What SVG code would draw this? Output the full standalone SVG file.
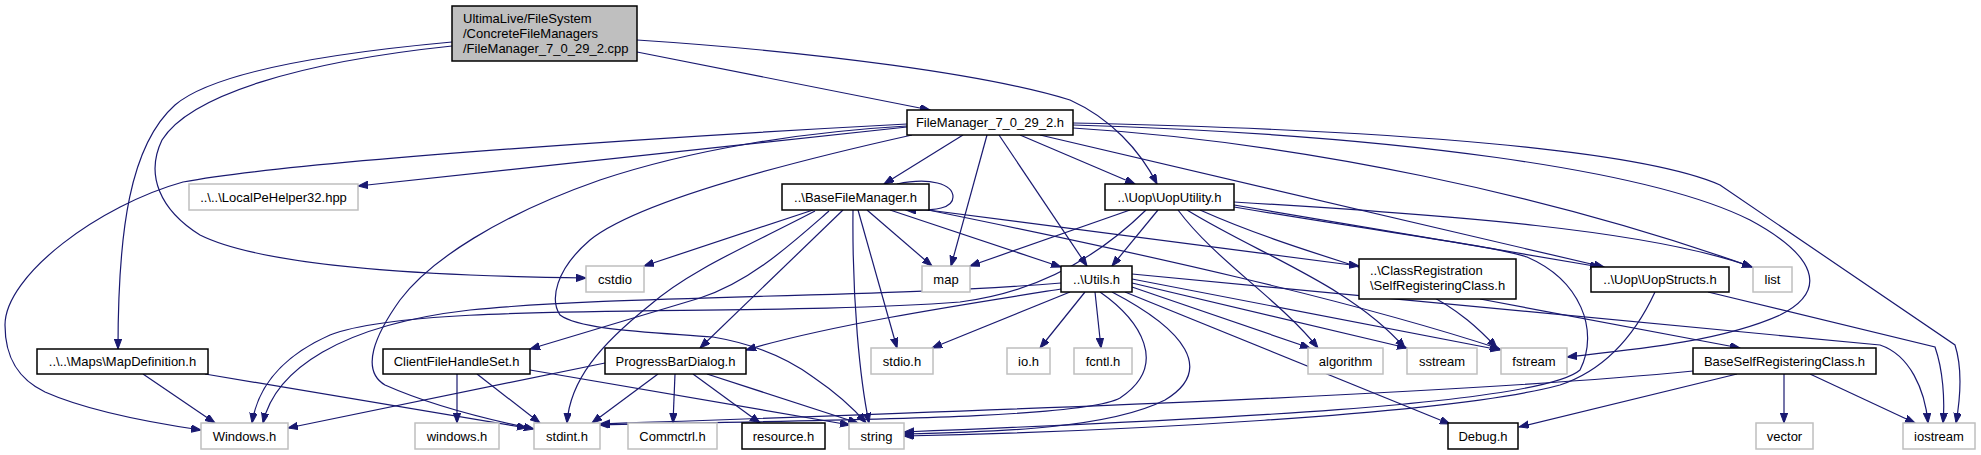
<svg xmlns="http://www.w3.org/2000/svg" width="1981" height="455" viewBox="0 0 1981 455">
<style>
.n rect{fill:#fff;stroke:#bfbfbf;stroke-width:1.5}
.n.d rect{stroke:#000}
.n.r rect{fill:#bfbfbf;stroke:#000}
.n text{font-family:"Liberation Sans",Arial,sans-serif;font-size:13px;fill:#000;text-anchor:middle}
.n text.l{text-anchor:start}
#edges path{fill:none;stroke:#191970;stroke-width:1.2;marker-end:url(#a)}
</style>
<defs>
<marker id="a" markerWidth="11" markerHeight="8" refX="10" refY="3.7" orient="auto" markerUnits="userSpaceOnUse"><path d="M0,0 L10,3.7 L0,7.4 z" fill="#191970" stroke="#191970" stroke-width="1"/></marker>
</defs>
<rect width="1981" height="455" fill="#fff"/>
<g id="edges">
<path d="M637,52 L930,110"/>
<path d="M637,40 C820,52 990,75 1070,100 C1110,118 1140,150 1157,184"/>
<path d="M452,42 C310,55 210,75 175,105 C130,145 118,230 118,349"/>
<path d="M452,46 C300,62 190,95 162,140 C145,175 160,210 200,235 C260,265 420,276 586,278"/>
<path d="M907,124 C700,135 300,160 183,182 C100,205 5,275 5,325 C5,360 20,380 45,392 C90,412 160,424 201,430"/>
<path d="M907,127 L358,186"/>
<path d="M907,126 C800,132 690,150 600,180 C500,215 430,260 400,300 C375,335 360,370 385,385 C430,405 490,420 534,429"/>
<path d="M912,135 C800,160 640,200 590,240 C555,270 550,300 560,315 C580,330 650,332 713,337 C760,345 790,360 813,377 C835,392 855,410 866,423"/>
<path d="M963,135 L884,184"/>
<path d="M987,135 L951,266"/>
<path d="M999,135 L1087,266"/>
<path d="M1020,135 L1135,184"/>
<path d="M1040,135 L1604,267"/>
<path d="M1073,128 C1300,142 1550,195 1752,267"/>
<path d="M1073,125 C1400,135 1650,170 1750,220 C1815,255 1830,290 1780,315 C1720,342 1630,350 1567,357"/>
<path d="M1073,123 C1400,130 1640,150 1720,185 L1955,345 C1963,370 1960,400 1956,423"/>
<path d="M897,184 C930,177 953,184 953,197 C953,208 937,211 906,210"/>
<path d="M813,210 L644,266"/>
<path d="M815,211 C750,245 690,270 650,305 C600,345 570,380 567,423"/>
<path d="M829,211 C790,245 750,282 700,298 L530,349"/>
<path d="M843,210 L700,348"/>
<path d="M853,210 C852,300 860,380 869,423"/>
<path d="M858,210 L897,348"/>
<path d="M867,210 L932,266"/>
<path d="M890,210 L1061,267"/>
<path d="M920,209 L1359,266"/>
<path d="M928,210 C1150,255 1350,300 1500,349"/>
<path d="M1061,283 C880,298 620,295 470,310 C340,325 275,370 263,423"/>
<path d="M1061,289 C960,305 830,325 746,350"/>
<path d="M1070,292 L932,348"/>
<path d="M1085,292 L1040,348"/>
<path d="M1095,292 L1101,348"/>
<path d="M1100,292 C1140,320 1170,365 1120,398 C1080,420 800,420 600,425"/>
<path d="M1112,292 C1185,330 1215,370 1165,400 C1110,428 1000,432 904,434"/>
<path d="M1125,292 L1450,424"/>
<path d="M1132,287 L1310,348"/>
<path d="M1132,283 L1407,348"/>
<path d="M1132,279 L1500,350"/>
<path d="M1132,274 L1880,345 C1910,355 1925,390 1928,423"/>
<path d="M1130,210 L970,266"/>
<path d="M1158,210 L1112,266"/>
<path d="M1178,210 C1215,260 1280,300 1318,348"/>
<path d="M1187,210 C1260,255 1350,285 1405,348"/>
<path d="M1200,210 C1290,250 1380,270 1420,290 C1460,310 1480,330 1497,348"/>
<path d="M1234,202 C1450,215 1650,230 1752,267"/>
<path d="M1234,205 L1600,267"/>
<path d="M1234,207 C1400,235 1490,245 1527,257 C1580,280 1600,330 1580,370 C1540,405 1200,420 904,432"/>
<path d="M1146,210 C1100,255 1040,292 960,302 C750,318 420,300 330,335 C285,355 258,385 252,423"/>
<path d="M605,363 L288,428"/>
<path d="M658,374 L592,423"/>
<path d="M675,374 L673,423"/>
<path d="M693,374 L760,423"/>
<path d="M707,374 L858,423"/>
<path d="M457,374 L457,423"/>
<path d="M477,374 L540,423"/>
<path d="M530,370 L850,425"/>
<path d="M143,374 L215,423"/>
<path d="M205,374 L527,428"/>
<path d="M1480,299 L1740,348"/>
<path d="M1655,292 C1635,335 1605,370 1560,385 C1450,415 1100,432 904,436"/>
<path d="M1708,292 L1935,347 C1943,370 1945,400 1943,423"/>
<path d="M1693,371 C1450,395 1000,410 600,424"/>
<path d="M1737,374 L1519,427"/>
<path d="M1784,374 L1784,423"/>
<path d="M1810,374 L1915,423"/>
</g>
<g id="root" class="n r"><rect x="452" y="6" width="185" height="55"/><text class="l" x="463" y="23">UltimaLive/FileSystem</text><text class="l" x="463" y="38">/ConcreteFileManagers</text><text class="l" x="463" y="53">/FileManager_7_0_29_2.cpp</text></g>
<g id="fm_h" class="n d"><rect x="907" y="110" width="166" height="25"/><text x="990" y="127">FileManager_7_0_29_2.h</text></g>
<g id="localpe" class="n"><rect x="189" y="184" width="169" height="26"/><text x="273.5" y="201.5">..\..\LocalPeHelper32.hpp</text></g>
<g id="bfm" class="n d"><rect x="782" y="184" width="147" height="26"/><text x="855.5" y="201.5">..\BaseFileManager.h</text></g>
<g id="uoputil" class="n d"><rect x="1105" y="184" width="129" height="26"/><text x="1169.5" y="201.5">..\Uop\UopUtility.h</text></g>
<g id="cstdio" class="n"><rect x="586" y="266" width="58" height="26"/><text x="615" y="283.5">cstdio</text></g>
<g id="map" class="n"><rect x="922" y="266" width="48" height="26"/><text x="946" y="283.5">map</text></g>
<g id="utils" class="n d"><rect x="1061" y="266" width="71" height="26"/><text x="1096.5" y="283.5">..\Utils.h</text></g>
<g id="selfreg" class="n d"><rect x="1359" y="259" width="157" height="40"/><text class="l" x="1370" y="275">..\ClassRegistration</text><text class="l" x="1370" y="290">\SelfRegisteringClass.h</text></g>
<g id="uopstructs" class="n d"><rect x="1591" y="267" width="138" height="25"/><text x="1660" y="284">..\Uop\UopStructs.h</text></g>
<g id="list" class="n"><rect x="1753" y="267" width="39" height="25"/><text x="1772.5" y="284">list</text></g>
<g id="mapdef" class="n d"><rect x="37" y="349" width="171" height="25"/><text x="122.5" y="366">..\..\Maps\MapDefinition.h</text></g>
<g id="clientfh" class="n d"><rect x="383" y="349" width="147" height="25"/><text x="456.5" y="366">ClientFileHandleSet.h</text></g>
<g id="pbd" class="n d"><rect x="605" y="348" width="141" height="26"/><text x="675.5" y="365.5">ProgressBarDialog.h</text></g>
<g id="stdio" class="n"><rect x="871" y="348" width="62" height="26"/><text x="902" y="365.5">stdio.h</text></g>
<g id="io" class="n"><rect x="1007" y="348" width="43" height="26"/><text x="1028.5" y="365.5">io.h</text></g>
<g id="fcntl" class="n"><rect x="1074" y="348" width="58" height="26"/><text x="1103" y="365.5">fcntl.h</text></g>
<g id="algorithm" class="n"><rect x="1308" y="348" width="75" height="26"/><text x="1345.5" y="365.5">algorithm</text></g>
<g id="sstream" class="n"><rect x="1407" y="348" width="70" height="26"/><text x="1442" y="365.5">sstream</text></g>
<g id="fstream" class="n"><rect x="1501" y="348" width="66" height="26"/><text x="1534" y="365.5">fstream</text></g>
<g id="basesrc" class="n d"><rect x="1693" y="348" width="183" height="26"/><text x="1784.5" y="365.5">BaseSelfRegisteringClass.h</text></g>
<g id="windows_h" class="n"><rect x="201" y="423" width="87" height="26"/><text x="244.5" y="440.5">Windows.h</text></g>
<g id="windows_l" class="n"><rect x="415" y="423" width="84" height="26"/><text x="457" y="440.5">windows.h</text></g>
<g id="stdint" class="n"><rect x="534" y="423" width="66" height="26"/><text x="567" y="440.5">stdint.h</text></g>
<g id="commctrl" class="n"><rect x="628" y="423" width="89" height="26"/><text x="672.5" y="440.5">Commctrl.h</text></g>
<g id="resource" class="n d"><rect x="742" y="423" width="83" height="26"/><text x="783.5" y="440.5">resource.h</text></g>
<g id="string" class="n"><rect x="849" y="423" width="55" height="26"/><text x="876.5" y="440.5">string</text></g>
<g id="debug" class="n d"><rect x="1448" y="423" width="70" height="26"/><text x="1483" y="440.5">Debug.h</text></g>
<g id="vector" class="n"><rect x="1756" y="423" width="57" height="26"/><text x="1784.5" y="440.5">vector</text></g>
<g id="iostream" class="n"><rect x="1903" y="423" width="72" height="26"/><text x="1939" y="440.5">iostream</text></g>
</svg>
